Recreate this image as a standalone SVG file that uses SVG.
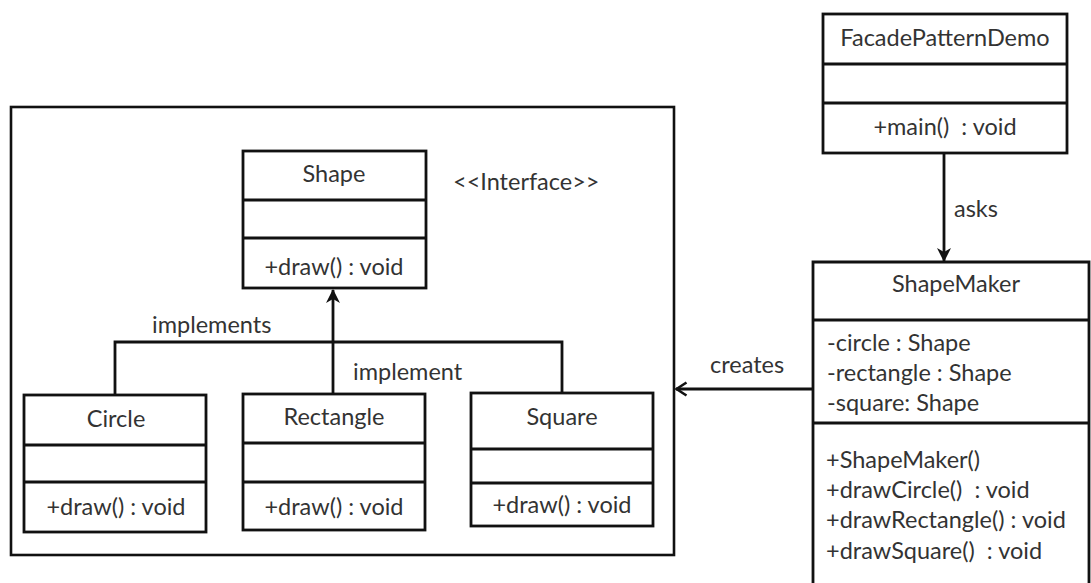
<svg xmlns="http://www.w3.org/2000/svg" width="1091" height="583" viewBox="0 0 1091 583">
  <style>
    .box { fill: #ffffff; stroke: #111111; stroke-width: 2.8; }
    .div { stroke: #111111; stroke-width: 2.8; fill: none; }
    .line { stroke: #111111; stroke-width: 2.8; fill: none; }
    text { font-family: Lato, "Liberation Sans", sans-serif; font-size: 23.5px; fill: #333333; white-space: pre; }
    .c { text-anchor: middle; }
  </style>
  <defs>
    <marker id="filled" viewBox="0 0 14 14" refX="13" refY="7" markerWidth="14" markerHeight="14" markerUnits="userSpaceOnUse" orient="auto">
      <path d="M0,0 L14,7 L0,14 L4,7 Z" fill="#111111"/>
    </marker>
    <marker id="open" viewBox="0 0 14 16" refX="12.5" refY="8" markerWidth="14" markerHeight="16" markerUnits="userSpaceOnUse" orient="auto">
      <path d="M2,1.5 L12,8 L2,14.5" fill="none" stroke="#111111" stroke-width="2.6"/>
    </marker>
  </defs>
  <rect width="1091" height="583" fill="#ffffff"/>

  <g id="package">
    <rect x="11" y="107" width="663" height="448" fill="none" stroke="#111111" stroke-width="2.6"/>
  </g>

  <g id="connectors">
    <path class="line" d="M115,395 L115,342 L562,342 L562,393"/>
    <line class="line" x1="333" y1="394" x2="333" y2="290" marker-end="url(#filled)"/>
    <line class="line" x1="944" y1="153" x2="944" y2="261" marker-end="url(#filled)"/>
    <line class="line" x1="813" y1="389" x2="676" y2="389" marker-end="url(#open)"/>
    <text x="152" y="333">implements</text>
    <text x="353" y="380">implement</text>
    <text x="954" y="217">asks</text>
    <text x="710" y="373">creates</text>
  </g>

  <g id="Shape">
    <rect class="box" x="243" y="151" width="183" height="137"/>
    <line class="div" x1="243" y1="200" x2="426" y2="200"/>
    <line class="div" x1="243" y1="238" x2="426" y2="238"/>
    <text class="c" x="334" y="182">Shape</text>
    <text class="c" x="334" y="275">+draw() : void</text>
    <text x="453" y="190">&lt;&lt;Interface&gt;&gt;</text>
  </g>

  <g id="Circle">
    <rect class="box" x="24" y="395" width="182" height="137"/>
    <line class="div" x1="24" y1="445" x2="206" y2="445"/>
    <line class="div" x1="24" y1="482" x2="206" y2="482"/>
    <text class="c" x="116" y="427">Circle</text>
    <text class="c" x="116" y="515">+draw() : void</text>
  </g>

  <g id="Rectangle">
    <rect class="box" x="243" y="394" width="182" height="136"/>
    <line class="div" x1="243" y1="443" x2="425" y2="443"/>
    <line class="div" x1="243" y1="482" x2="425" y2="482"/>
    <text class="c" x="334" y="425">Rectangle</text>
    <text class="c" x="334" y="515">+draw() : void</text>
  </g>

  <g id="Square">
    <rect class="box" x="471" y="393" width="182" height="133"/>
    <line class="div" x1="471" y1="449" x2="653" y2="449"/>
    <line class="div" x1="471" y1="483" x2="653" y2="483"/>
    <text class="c" x="562" y="425">Square</text>
    <text class="c" x="562" y="513">+draw() : void</text>
  </g>

  <g id="FacadePatternDemo">
    <rect class="box" x="823" y="14" width="244" height="139"/>
    <line class="div" x1="823" y1="64" x2="1067" y2="64"/>
    <line class="div" x1="823" y1="103" x2="1067" y2="103"/>
    <text class="c" x="945" y="46">FacadePatternDemo</text>
    <text class="c" x="945" y="135">+main()  : void</text>
  </g>

  <g id="ShapeMaker">
    <path class="line" d="M813,590 L813,262 L1089,262 L1089,590"/>
    <line class="div" x1="813" y1="320" x2="1089" y2="320"/>
    <line class="div" x1="813" y1="423" x2="1089" y2="423"/>
    <text class="c" x="956" y="292">ShapeMaker</text>
    <text x="827" y="351">-circle : Shape</text>
    <text x="827" y="381">-rectangle : Shape</text>
    <text x="827" y="411">-square: Shape</text>
    <text x="826" y="468">+ShapeMaker()</text>
    <text x="826" y="498">+drawCircle()  : void</text>
    <text x="826" y="528">+drawRectangle() : void</text>
    <text x="826" y="559">+drawSquare()  : void</text>
  </g>
</svg>
